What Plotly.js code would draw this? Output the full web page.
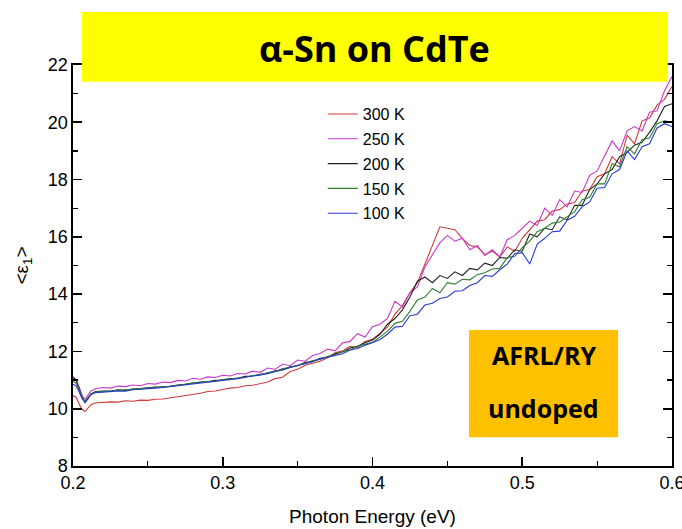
<!DOCTYPE html>
<html>
<head>
<meta charset="utf-8">
<script src="https://cdn.plot.ly/plotly-3.0.1.min.js"></script>
<style>html,body{margin:0;padding:0;background:#fff;}#chart{width:682px;height:529px;}</style>
</head>
<body>
<div id="chart"></div>
<script>
const energy = [0.200,0.202,0.204,0.206,0.208,0.210,0.212,0.215,
  0.220,0.225,0.230,0.235,0.240,0.245,0.250,0.255,0.260,0.265,
  0.270,0.275,0.280,0.285,0.290,0.295,0.300,0.305,0.310,0.315,
  0.320,0.325,0.330,0.335,0.340,0.345,0.350,0.355,0.360,0.365,
  0.370,0.375,0.380,0.385,0.390,0.395,0.400,0.405,0.410,0.415,
  0.420,0.425,0.430,0.435,0.440,0.445,0.450,0.455,0.460,0.465,
  0.470,0.475,0.480,0.485,0.490,0.495,0.500,0.505,0.510,0.515,
  0.520,0.525,0.530,0.535,0.540,0.545,0.550,0.555,0.560,0.565,
  0.570,0.575,0.580,0.585,0.590,0.595,0.600];

const eps300K = [10.46,10.40,10.18,9.98,9.90,10.02,10.14,10.20,
  10.22,10.24,10.23,10.28,10.26,10.30,10.29,10.33,10.34,10.38,
  10.40,10.46,10.50,10.54,10.60,10.62,10.67,10.72,10.74,10.80,
  10.82,10.88,10.93,11.05,11.10,11.30,11.38,11.52,11.58,11.66,
  11.78,11.95,12.02,12.18,12.12,12.35,12.42,12.62,12.85,13.30,
  13.60,14.05,14.40,15.05,15.70,16.35,16.30,16.25,15.95,15.70,
  15.65,15.38,15.50,15.30,15.65,15.50,15.95,16.25,16.55,16.60,
  16.90,16.95,17.15,17.20,17.60,17.65,18.10,18.20,18.80,18.55,
  19.55,19.25,20.05,20.15,20.60,20.80,21.25];

const eps250K = [11.12,11.02,10.78,10.48,10.32,10.46,10.62,10.70,
  10.74,10.72,10.79,10.77,10.83,10.80,10.88,10.86,10.93,10.91,
  10.99,10.97,11.06,11.03,11.11,11.09,11.17,11.14,11.23,11.21,
  11.31,11.27,11.42,11.38,11.55,11.50,11.70,11.66,11.86,11.93,
  12.08,12.02,12.30,12.35,12.62,12.50,12.86,12.95,13.15,13.75,
  13.55,14.05,14.25,14.95,15.40,15.80,16.05,15.85,15.95,15.55,
  15.70,15.35,15.55,15.30,15.90,16.05,16.30,16.55,16.40,17.00,
  16.75,17.30,17.05,17.60,17.55,18.15,18.30,18.85,19.35,19.00,
  19.70,19.85,19.70,20.35,20.40,21.10,21.60];

const eps200K = [11.10,10.98,10.72,10.40,10.22,10.36,10.50,10.60,
  10.62,10.61,10.66,10.64,10.69,10.70,10.72,10.76,10.75,10.80,
  10.83,10.85,10.90,10.92,10.94,10.99,11.00,11.05,11.06,11.13,
  11.14,11.20,11.24,11.32,11.36,11.46,11.50,11.62,11.65,11.76,
  11.80,11.92,11.98,12.12,12.18,12.30,12.40,12.60,12.95,13.15,
  13.45,13.90,14.45,14.60,14.40,14.65,14.55,14.78,14.65,14.90,
  14.85,15.08,15.00,15.28,15.25,15.55,15.50,16.10,16.00,16.30,
  16.25,16.70,16.60,17.10,17.10,17.65,17.85,18.20,18.35,18.80,
  18.95,19.20,19.30,19.65,20.05,20.55,20.65];

const eps150K = [10.95,10.90,10.68,10.40,10.26,10.40,10.52,10.58,
  10.60,10.62,10.63,10.66,10.66,10.70,10.71,10.74,10.77,10.78,
  10.82,10.86,10.88,10.93,10.95,10.97,11.02,11.04,11.08,11.10,
  11.16,11.18,11.26,11.30,11.40,11.44,11.52,11.58,11.68,11.72,
  11.82,11.88,12.00,12.05,12.18,12.25,12.32,12.50,12.70,12.98,
  13.05,13.40,13.80,13.90,14.20,14.05,14.40,14.35,14.52,14.50,
  14.68,14.75,14.88,14.90,15.28,15.32,15.62,15.85,16.18,16.30,
  16.48,16.52,16.70,16.88,17.30,17.38,17.85,17.85,18.55,18.45,
  19.15,18.90,19.40,19.45,19.95,20.05,20.00];

const eps100K = [10.85,10.80,10.60,10.36,10.22,10.34,10.50,10.56,
  10.58,10.60,10.62,10.61,10.66,10.68,10.69,10.72,10.74,10.77,
  10.80,10.83,10.86,10.90,10.93,10.95,10.99,11.02,11.05,11.10,
  11.14,11.18,11.22,11.30,11.35,11.44,11.50,11.58,11.64,11.74,
  11.80,11.88,11.92,12.05,12.10,12.22,12.30,12.42,12.60,12.85,
  12.88,13.25,13.30,13.62,13.68,13.85,13.90,14.10,14.12,14.30,
  14.40,14.65,14.62,14.85,15.05,15.42,15.45,15.05,15.75,15.95,
  16.18,16.20,16.58,16.72,17.05,17.22,17.70,17.72,18.20,18.35,
  19.00,18.70,19.15,19.25,19.80,19.95,19.85];

const seriesNames = ['300 K','250 K','200 K','150 K','100 K'];
const seriesData = [eps300K, eps250K, eps200K, eps150K, eps100K];
const seriesColors = ['#d03a3a','#c838c8','#222222','#2e8030','#2a3ad0'];

const xTicks = [0.2,0.3,0.4,0.5,0.6];
const yTicks = [8,10,12,14,16,18,20,22];

const traces = seriesData.map((d,i)=>({
  x: energy, y: d, type:'scatter', mode:'lines', name: seriesNames[i],
  legendgroup: 'g'+i,
  line:{color: seriesColors[i], width:1.1}
}));

const axisCommon = {
  showgrid:false, zeroline:false, showline:true, linecolor:'#000', linewidth:1.6,
  mirror:'ticks', ticks:'inside', ticklen:9, tickwidth:1.6, tickcolor:'#000',
  ticklabeloverflow:'allow',
  tickfont:{family:'Liberation Sans, Arial, sans-serif', size:18, color:'#000'}
};

const layout = {
  width:682, height:529,
  margin:{l:73, r:10, t:65, b:63},
  paper_bgcolor:'#fff', plot_bgcolor:'#fff',
  showlegend:true,
  legend:{x:0.417, y:0.92, xanchor:'left', yanchor:'top', bgcolor:'rgba(0,0,0,0)',
    font:{family:'Liberation Sans, Arial, sans-serif', size:16, color:'#000'},
    tracegroupgap:1, itemwidth:30},
  xaxis: Object.assign({}, axisCommon, {
    range:[0.2,0.6], tickvals:xTicks, ticktext:xTicks.map(v=>v.toFixed(1)),
    minor:{dtick:0.05, tick0:0.2, ticks:'inside', ticklen:5, tickwidth:1.2, tickcolor:'#000'},
    title:{text:'Photon Energy (eV)', font:{family:'Liberation Sans, Arial, sans-serif', size:19, color:'#000'}, standoff:17}
  }),
  yaxis: Object.assign({}, axisCommon, {
    range:[8,22], tickvals:yTicks, ticktext:yTicks.map(String),
    minor:{dtick:1, tick0:8, ticks:'inside', ticklen:5, tickwidth:1.2, tickcolor:'#000'},
    title:{text:'&lt;ε<sub>1</sub>&gt;', font:{family:'Liberation Sans, Arial, sans-serif', size:19, color:'#000'}, standoff:14}
  }),
  shapes:[
    {type:'rect', xref:'paper', yref:'paper', x0:0.015, x1:0.993, y0:0.958, y1:1.132,
     fillcolor:'#ffff00', line:{width:0}, layer:'above'},
    {type:'rect', xref:'paper', yref:'paper', x0:0.661, x1:0.910, y0:0.072, y1:0.339,
     fillcolor:'#ffc000', line:{width:0}, layer:'above'}
  ],
  annotations:[
    {xref:'paper', yref:'paper', x:0.504, y:1.042, xanchor:'center', yanchor:'middle',
     text:'<b>α-Sn on CdTe</b>', showarrow:false,
     font:{family:'Open Sans, Noto Sans, sans-serif', size:36, color:'#000'}},
    {xref:'paper', yref:'paper', x:0.786, y:0.277, xanchor:'center', yanchor:'middle',
     text:'<b>AFRL/RY</b>', showarrow:false,
     font:{family:'Open Sans, Noto Sans, sans-serif', size:25, color:'#000'}},
    {xref:'paper', yref:'paper', x:0.786, y:0.145, xanchor:'center', yanchor:'middle',
     text:'<b>undoped</b>', showarrow:false,
     font:{family:'Open Sans, Noto Sans, sans-serif', size:25, color:'#000'}}
  ]
};

Plotly.newPlot('chart', traces, layout, {displayModeBar:false, staticPlot:true});
</script>
</body>
</html>
